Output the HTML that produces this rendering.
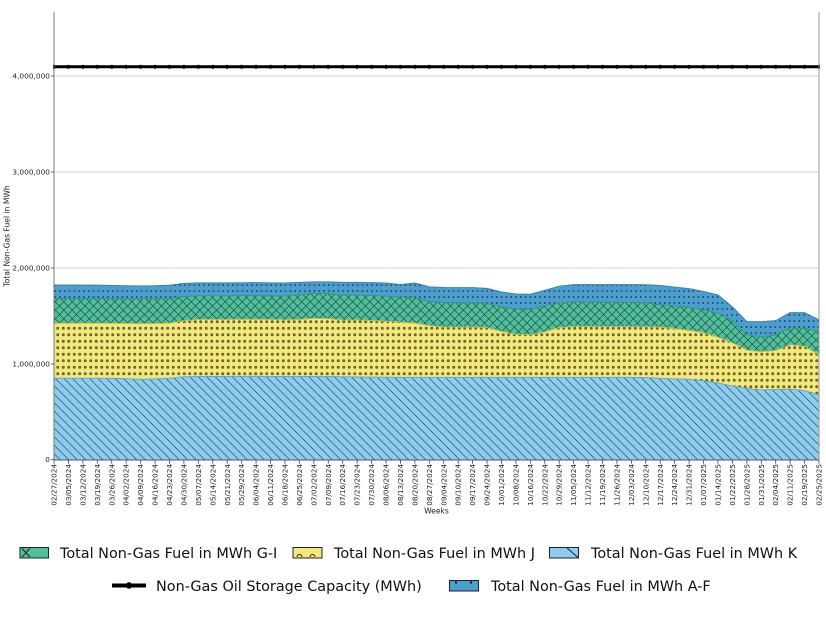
<!DOCTYPE html>
<html><head><meta charset="utf-8"><style>
html,body{margin:0;padding:0;background:#fff;}
svg{display:block;font-family:"DejaVu Sans","Liberation Sans",sans-serif;}
</style></head><body>
<svg width="826" height="620" viewBox="0 0 826 620" xmlns="http://www.w3.org/2000/svg">
<defs>
<pattern id="pK" patternUnits="userSpaceOnUse" width="8.5" height="8.5"><path d="M0,0L8.5,8.5M-2,6.5L2,10.5M6.5,-2L10.5,2" stroke="#1d3b4c" stroke-width="0.7" fill="none" opacity="0.85"/></pattern>
<pattern id="pG" patternUnits="userSpaceOnUse" width="8.5" height="8.5"><path d="M0,0L8.5,8.5M-2,6.5L2,10.5M6.5,-2L10.5,2M8.5,0L0,8.5M-2,2L2,-2M6.5,10.5L10.5,6.5" stroke="#173d31" stroke-width="0.7" fill="none" opacity="0.85"/></pattern>
<pattern id="pJ" patternUnits="userSpaceOnUse" width="5.5" height="6.5"><circle cx="2.75" cy="3.25" r="1.25" fill="#777350" stroke="#3a3820" stroke-width="0.5"/></pattern>
<pattern id="pA" patternUnits="userSpaceOnUse" width="4.8" height="6"><circle cx="2.4" cy="3" r="0.8" fill="#0d1a24"/></pattern>
<clipPath id="cA"><path transform="translate(54,459.5) scale(14.434,-0.096)" d="M0,0 L0,1818 L1,1818 L2,1817 L3,1816 L4,1813 L5,1810 L6,1807 L7,1810 L8,1815 L9,1835 L10,1840 L11,1840 L12,1840 L13,1841 L14,1842 L15,1840 L16,1838 L17,1845 L18,1850 L19,1850 L20,1845 L21,1845 L22,1843 L23,1838 L24,1822 L25,1838 L26,1798 L27,1792 L28,1790 L29,1790 L30,1782 L31,1745 L32,1724 L33,1722 L34,1762 L35,1805 L36,1822 L37,1822 L38,1822 L39,1822 L40,1822 L41,1820 L42,1812 L43,1795 L44,1780 L45,1750 L46,1714 L47,1590 L48,1437 L49,1435 L50,1446 L51,1530 L52,1530 L53,1455 L53,0 Z"/></clipPath>
<clipPath id="cG"><path transform="translate(54,459.5) scale(14.434,-0.096)" d="M0,0 L0,1675 L1,1675 L2,1675 L3,1675 L4,1674 L5,1673 L6,1672 L7,1673 L8,1676 L9,1698 L10,1705 L11,1705 L12,1705 L13,1706 L14,1706 L15,1705 L16,1703 L17,1718 L18,1730 L19,1728 L20,1712 L21,1712 L22,1708 L23,1700 L24,1690 L25,1682 L26,1645 L27,1636 L28,1632 L29,1632 L30,1625 L31,1590 L32,1567 L33,1563 L34,1600 L35,1630 L36,1640 L37,1640 L38,1638 L39,1638 L40,1638 L41,1632 L42,1612 L43,1600 L44,1585 L45,1560 L46,1523 L47,1440 L48,1300 L49,1275 L50,1297 L51,1370 L52,1367 L53,1330 L53,0 Z"/></clipPath>
<clipPath id="cJ"><path transform="translate(54,459.5) scale(14.434,-0.096)" d="M0,0 L0,1419 L1,1419 L2,1419 L3,1419 L4,1418 L5,1417 L6,1415 L7,1417 L8,1420 L9,1445 L10,1458 L11,1458 L12,1458 L13,1460 L14,1460 L15,1458 L16,1455 L17,1458 L18,1470 L19,1468 L20,1452 L21,1455 L22,1448 L23,1440 L24,1430 L25,1420 L26,1395 L27,1380 L28,1380 L29,1382 L30,1375 L31,1335 L32,1305 L33,1298 L34,1330 L35,1375 L36,1385 L37,1385 L38,1384 L39,1384 L40,1384 L41,1383 L42,1380 L43,1362 L44,1345 L45,1320 L46,1275 L47,1215 L48,1140 L49,1123 L50,1135 L51,1195 L52,1180 L53,1090 L53,0 Z"/></clipPath>
<clipPath id="cK"><path transform="translate(54,459.5) scale(14.434,-0.096)" d="M0,0 L0,846 L1,846 L2,846 L3,846 L4,845 L5,842 L6,835 L7,840 L8,846 L9,862 L10,864 L11,864 L12,865 L13,866 L14,866 L15,865 L16,864 L17,864 L18,865 L19,865 L20,862 L21,860 L22,858 L23,857 L24,856 L25,856 L26,856 L27,856 L28,856 L29,856 L30,856 L31,856 L32,855 L33,855 L34,855 L35,855 L36,856 L37,856 L38,856 L39,856 L40,855 L41,854 L42,845 L43,840 L44,835 L45,822 L46,797 L47,765 L48,740 L49,725 L50,728 L51,733 L52,718 L53,672 L53,0 Z"/></clipPath>
</defs>

<!-- gridlines -->
<g stroke="#e3e3e3" stroke-width="1.6">
<line x1="54" y1="76" x2="819" y2="76"/>
<line x1="54" y1="172" x2="819" y2="172"/>
<line x1="54" y1="268" x2="819" y2="268"/>
<line x1="54" y1="364" x2="819" y2="364"/>
</g>

<!-- areas -->
<rect x="54" y="12" width="765" height="448" fill="#4c9ecf" clip-path="url(#cA)"/>
<rect x="54" y="12" width="765" height="448" fill="url(#pA)" clip-path="url(#cA)"/>
<rect x="54" y="12" width="765" height="448" fill="#50bf9d" clip-path="url(#cG)"/>
<rect x="54" y="12" width="765" height="448" fill="url(#pG)" clip-path="url(#cG)"/>
<rect x="54" y="12" width="765" height="448" fill="#f4e878" clip-path="url(#cJ)"/>
<rect x="54" y="12" width="765" height="448" fill="url(#pJ)" clip-path="url(#cJ)"/>
<rect x="54" y="12" width="765" height="448" fill="#8ccdf0" clip-path="url(#cK)"/>
<rect x="54" y="12" width="765" height="448" fill="url(#pK)" clip-path="url(#cK)"/>

<!-- edges -->
<g transform="translate(54,459.5) scale(14.434,-0.096)" fill="none" stroke-width="1">
<path vector-effect="non-scaling-stroke" stroke="#3a83b3" d="M0,1818 L1,1818 L2,1817 L3,1816 L4,1813 L5,1810 L6,1807 L7,1810 L8,1815 L9,1835 L10,1840 L11,1840 L12,1840 L13,1841 L14,1842 L15,1840 L16,1838 L17,1845 L18,1850 L19,1850 L20,1845 L21,1845 L22,1843 L23,1838 L24,1822 L25,1838 L26,1798 L27,1792 L28,1790 L29,1790 L30,1782 L31,1745 L32,1724 L33,1722 L34,1762 L35,1805 L36,1822 L37,1822 L38,1822 L39,1822 L40,1822 L41,1820 L42,1812 L43,1795 L44,1780 L45,1750 L46,1714 L47,1590 L48,1437 L49,1435 L50,1446 L51,1530 L52,1530 L53,1455"/>
<path vector-effect="non-scaling-stroke" stroke="#2f9a7a" d="M0,1675 L1,1675 L2,1675 L3,1675 L4,1674 L5,1673 L6,1672 L7,1673 L8,1676 L9,1698 L10,1705 L11,1705 L12,1705 L13,1706 L14,1706 L15,1705 L16,1703 L17,1718 L18,1730 L19,1728 L20,1712 L21,1712 L22,1708 L23,1700 L24,1690 L25,1682 L26,1645 L27,1636 L28,1632 L29,1632 L30,1625 L31,1590 L32,1567 L33,1563 L34,1600 L35,1630 L36,1640 L37,1640 L38,1638 L39,1638 L40,1638 L41,1632 L42,1612 L43,1600 L44,1585 L45,1560 L46,1523 L47,1440 L48,1300 L49,1275 L50,1297 L51,1370 L52,1367 L53,1330"/>
<path vector-effect="non-scaling-stroke" stroke="#c9bd50" d="M0,1419 L1,1419 L2,1419 L3,1419 L4,1418 L5,1417 L6,1415 L7,1417 L8,1420 L9,1445 L10,1458 L11,1458 L12,1458 L13,1460 L14,1460 L15,1458 L16,1455 L17,1458 L18,1470 L19,1468 L20,1452 L21,1455 L22,1448 L23,1440 L24,1430 L25,1420 L26,1395 L27,1380 L28,1380 L29,1382 L30,1375 L31,1335 L32,1305 L33,1298 L34,1330 L35,1375 L36,1385 L37,1385 L38,1384 L39,1384 L40,1384 L41,1383 L42,1380 L43,1362 L44,1345 L45,1320 L46,1275 L47,1215 L48,1140 L49,1123 L50,1135 L51,1195 L52,1180 L53,1090"/>
<path vector-effect="non-scaling-stroke" stroke="#5fa9d3" d="M0,846 L1,846 L2,846 L3,846 L4,845 L5,842 L6,835 L7,840 L8,846 L9,862 L10,864 L11,864 L12,865 L13,866 L14,866 L15,865 L16,864 L17,864 L18,865 L19,865 L20,862 L21,860 L22,858 L23,857 L24,856 L25,856 L26,856 L27,856 L28,856 L29,856 L30,856 L31,856 L32,855 L33,855 L34,855 L35,855 L36,856 L37,856 L38,856 L39,856 L40,855 L41,854 L42,845 L43,840 L44,835 L45,822 L46,797 L47,765 L48,740 L49,725 L50,728 L51,733 L52,718 L53,672"/>
</g>

<!-- capacity line -->
<line x1="54" y1="66.8" x2="819" y2="66.8" stroke="#000" stroke-width="3"/>
<line x1="53" y1="66.8" x2="820" y2="66.8" stroke="#000" stroke-width="3.9" stroke-dasharray="2 12.434"/>

<!-- spines -->
<line x1="54" y1="12" x2="54" y2="460" stroke="#777" stroke-width="1"/>
<line x1="819" y1="12" x2="819" y2="460" stroke="#999" stroke-width="1"/>
<line x1="54" y1="460" x2="819" y2="460" stroke="#555" stroke-width="1"/>

<!-- ticks -->
<line x1="53.6" y1="462" x2="820" y2="462" stroke="#444" stroke-width="3.5" stroke-dasharray="0.8 13.634"/>
<g stroke="#444" stroke-width="0.8">
<line x1="51" y1="76" x2="54" y2="76"/><line x1="51" y1="172" x2="54" y2="172"/><line x1="51" y1="268" x2="54" y2="268"/><line x1="51" y1="364" x2="54" y2="364"/><line x1="51" y1="459.5" x2="54" y2="459.5"/>
</g>

<!-- y tick labels -->
<g font-size="7.4" fill="#222" text-anchor="end">
<text x="50" y="78.7">4,000,000</text>
<text x="50" y="174.7">3,000,000</text>
<text x="50" y="270.7">2,000,000</text>
<text x="50" y="366.7">1,000,000</text>
<text x="50" y="462.2">0</text>
</g>
<text transform="translate(9.5,236) rotate(-90)" font-size="7.6" fill="#222" text-anchor="middle">Total Non-Gas Fuel in MWh</text>

<!-- x tick labels -->
<g font-size="7.25" fill="#222" text-anchor="end">
<text transform="translate(54,464) rotate(-90)" dy="0.35em">02/27/2024</text>
<text transform="translate(68.43,464) rotate(-90)" dy="0.35em">03/05/2024</text>
<text transform="translate(82.87,464) rotate(-90)" dy="0.35em">03/12/2024</text>
<text transform="translate(97.3,464) rotate(-90)" dy="0.35em">03/19/2024</text>
<text transform="translate(111.74,464) rotate(-90)" dy="0.35em">03/26/2024</text>
<text transform="translate(126.17,464) rotate(-90)" dy="0.35em">04/02/2024</text>
<text transform="translate(140.6,464) rotate(-90)" dy="0.35em">04/09/2024</text>
<text transform="translate(155.04,464) rotate(-90)" dy="0.35em">04/16/2024</text>
<text transform="translate(169.47,464) rotate(-90)" dy="0.35em">04/23/2024</text>
<text transform="translate(183.91,464) rotate(-90)" dy="0.35em">04/30/2024</text>
<text transform="translate(198.34,464) rotate(-90)" dy="0.35em">05/07/2024</text>
<text transform="translate(212.77,464) rotate(-90)" dy="0.35em">05/14/2024</text>
<text transform="translate(227.21,464) rotate(-90)" dy="0.35em">05/21/2024</text>
<text transform="translate(241.64,464) rotate(-90)" dy="0.35em">05/29/2024</text>
<text transform="translate(256.08,464) rotate(-90)" dy="0.35em">06/04/2024</text>
<text transform="translate(270.51,464) rotate(-90)" dy="0.35em">06/11/2024</text>
<text transform="translate(284.94,464) rotate(-90)" dy="0.35em">06/18/2024</text>
<text transform="translate(299.38,464) rotate(-90)" dy="0.35em">06/25/2024</text>
<text transform="translate(313.81,464) rotate(-90)" dy="0.35em">07/02/2024</text>
<text transform="translate(328.25,464) rotate(-90)" dy="0.35em">07/09/2024</text>
<text transform="translate(342.68,464) rotate(-90)" dy="0.35em">07/16/2024</text>
<text transform="translate(357.11,464) rotate(-90)" dy="0.35em">07/23/2024</text>
<text transform="translate(371.55,464) rotate(-90)" dy="0.35em">07/30/2024</text>
<text transform="translate(385.98,464) rotate(-90)" dy="0.35em">08/06/2024</text>
<text transform="translate(400.42,464) rotate(-90)" dy="0.35em">08/13/2024</text>
<text transform="translate(414.85,464) rotate(-90)" dy="0.35em">08/20/2024</text>
<text transform="translate(429.28,464) rotate(-90)" dy="0.35em">08/27/2024</text>
<text transform="translate(443.72,464) rotate(-90)" dy="0.35em">09/04/2024</text>
<text transform="translate(458.15,464) rotate(-90)" dy="0.35em">09/10/2024</text>
<text transform="translate(472.58,464) rotate(-90)" dy="0.35em">09/17/2024</text>
<text transform="translate(487.02,464) rotate(-90)" dy="0.35em">09/24/2024</text>
<text transform="translate(501.45,464) rotate(-90)" dy="0.35em">10/01/2024</text>
<text transform="translate(515.89,464) rotate(-90)" dy="0.35em">10/08/2024</text>
<text transform="translate(530.32,464) rotate(-90)" dy="0.35em">10/16/2024</text>
<text transform="translate(544.75,464) rotate(-90)" dy="0.35em">10/22/2024</text>
<text transform="translate(559.19,464) rotate(-90)" dy="0.35em">10/29/2024</text>
<text transform="translate(573.62,464) rotate(-90)" dy="0.35em">11/05/2024</text>
<text transform="translate(588.06,464) rotate(-90)" dy="0.35em">11/12/2024</text>
<text transform="translate(602.49,464) rotate(-90)" dy="0.35em">11/19/2024</text>
<text transform="translate(616.92,464) rotate(-90)" dy="0.35em">11/26/2024</text>
<text transform="translate(631.36,464) rotate(-90)" dy="0.35em">12/03/2024</text>
<text transform="translate(645.79,464) rotate(-90)" dy="0.35em">12/10/2024</text>
<text transform="translate(660.23,464) rotate(-90)" dy="0.35em">12/17/2024</text>
<text transform="translate(674.66,464) rotate(-90)" dy="0.35em">12/24/2024</text>
<text transform="translate(689.09,464) rotate(-90)" dy="0.35em">12/31/2024</text>
<text transform="translate(703.53,464) rotate(-90)" dy="0.35em">01/07/2025</text>
<text transform="translate(717.96,464) rotate(-90)" dy="0.35em">01/14/2025</text>
<text transform="translate(732.4,464) rotate(-90)" dy="0.35em">01/22/2025</text>
<text transform="translate(746.83,464) rotate(-90)" dy="0.35em">01/28/2025</text>
<text transform="translate(761.26,464) rotate(-90)" dy="0.35em">01/31/2025</text>
<text transform="translate(775.7,464) rotate(-90)" dy="0.35em">02/04/2025</text>
<text transform="translate(790.13,464) rotate(-90)" dy="0.35em">02/11/2025</text>
<text transform="translate(804.57,464) rotate(-90)" dy="0.35em">02/19/2025</text>
<text transform="translate(819,464) rotate(-90)" dy="0.35em">02/25/2025</text>
</g>
<text x="436.5" y="513.5" font-size="7.6" fill="#222" text-anchor="middle">Weeks</text>

<!-- legend -->
<g font-size="14.4" fill="#111">
<rect x="20" y="547.5" width="28.5" height="10.5" fill="#50bf9d" stroke="#222" stroke-width="1"/>
<path d="M22,548.5 L30,557 M30,548.5 L22,557" stroke="#222" stroke-width="1"/>
<text x="60" y="558">Total Non-Gas Fuel in MWh G-I</text>

<rect x="293" y="547.5" width="29" height="10.5" fill="#f4e878" stroke="#222" stroke-width="1"/>
<path d="M297,557 a2.5,2.5 0 0 1 5,0 M310,557 a2.5,2.5 0 0 1 5,0" stroke="#222" stroke-width="1" fill="none"/>
<text x="334" y="558">Total Non-Gas Fuel in MWh J</text>

<rect x="549.5" y="547.5" width="29" height="10.5" fill="#8ccdf0" stroke="#222" stroke-width="1"/>
<path d="M567,548 L578,557.5" stroke="#222" stroke-width="1"/>
<text x="591" y="558">Total Non-Gas Fuel in MWh K</text>

<line x1="112" y1="585.5" x2="146" y2="585.5" stroke="#000" stroke-width="4"/>
<circle cx="129" cy="585.5" r="3.2" fill="#000"/>
<text x="156" y="591">Non-Gas Oil Storage Capacity (MWh)</text>

<rect x="449.5" y="580.5" width="29" height="10.5" fill="#4c9ecf" stroke="#222" stroke-width="1"/>
<rect x="455" y="581.5" width="2" height="2" fill="#111"/>
<rect x="470" y="581.5" width="2" height="2" fill="#111"/>
<text x="491" y="591">Total Non-Gas Fuel in MWh A-F</text>
</g>
</svg>
</body></html>
